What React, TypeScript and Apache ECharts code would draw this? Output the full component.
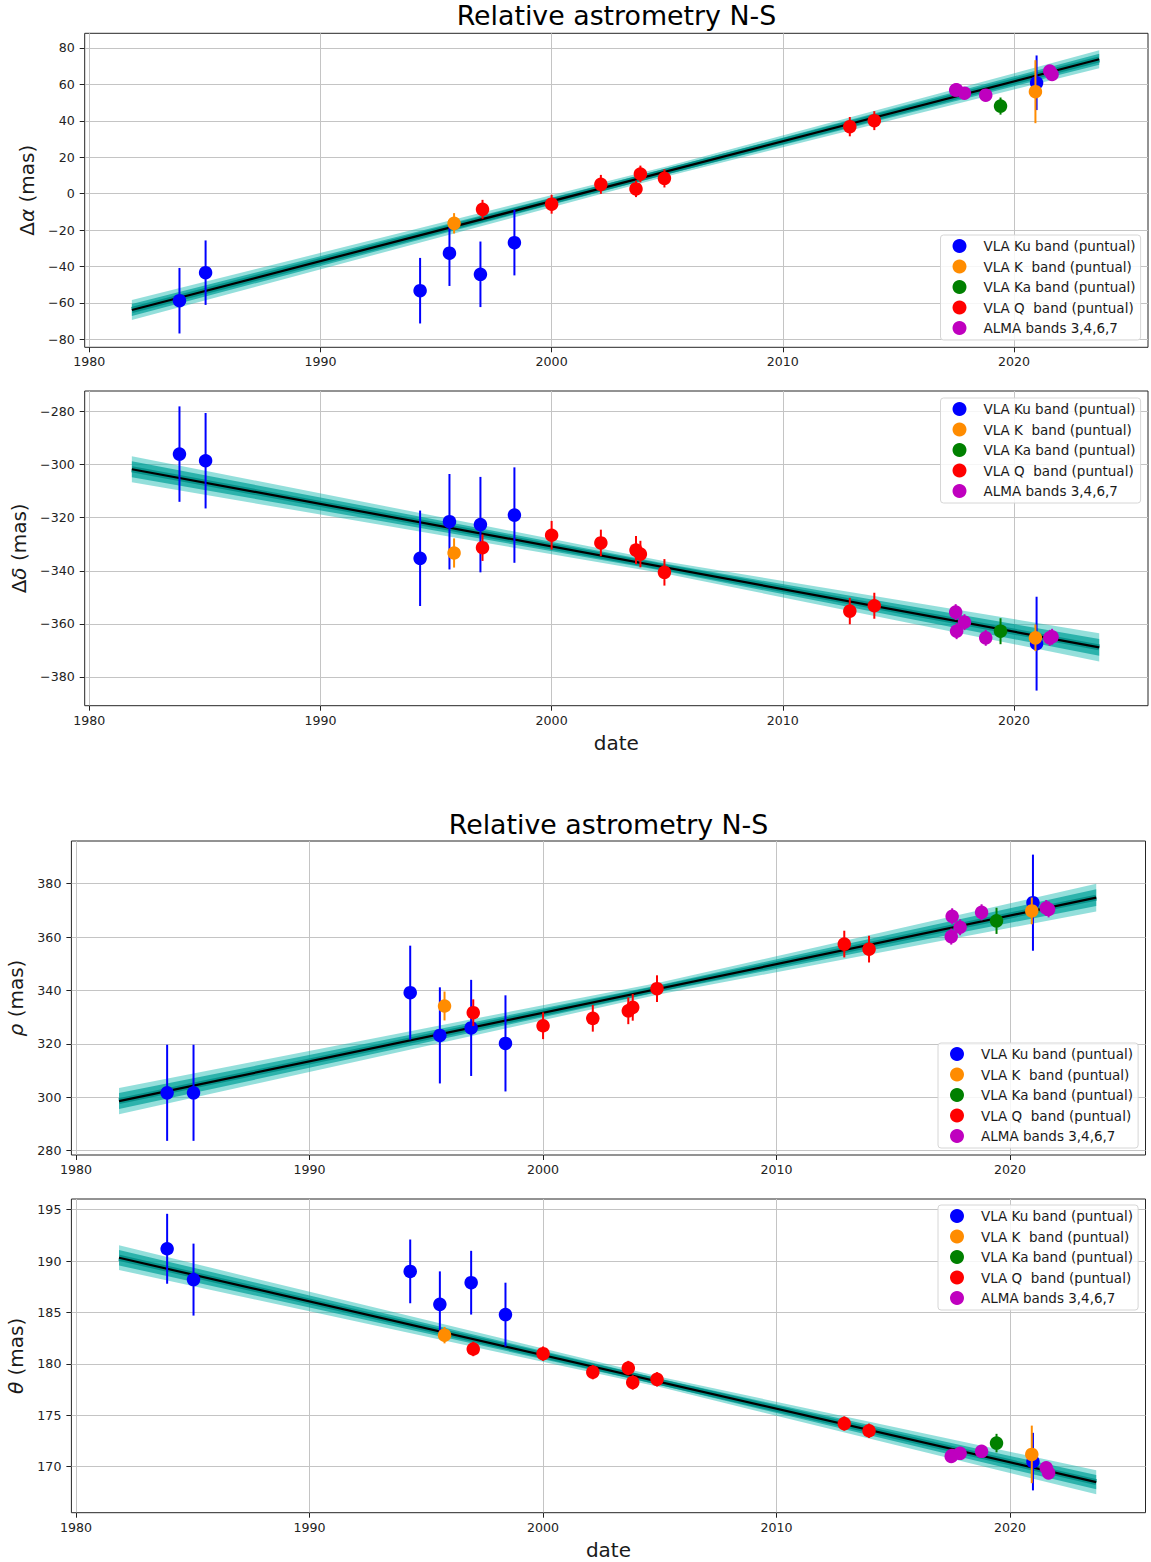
import React, { useEffect, useRef } from "react";
import * as echarts from "echarts";

// ---------- tick labels ----------
const xTicks = [1980, 1990, 2000, 2010, 2020];
const alphaTicks = [-80, -60, -40, -20, 0, 20, 40, 60, 80];
const deltaTicks = [-380, -360, -340, -320, -300, -280];
const rhoTicks = [280, 300, 320, 340, 360, 380];
const thetaTicks = [170, 175, 180, 185, 190, 195];

// ---------- series names / colours ----------
const seriesNames = [
  "VLA Ku band (puntual)",
  "VLA K  band (puntual)",
  "VLA Ka band (puntual)",
  "VLA Q  band (puntual)",
  "ALMA bands 3,4,6,7",
];
const seriesColors = ["#0000ff", "#ff8c00", "#008000", "#ff0000", "#bf00bf"];

// ---------- VLA Ku ----------
const kuDates = [1983.9, 1985.03, 1994.31, 1995.58, 1996.92, 1998.39, 2020.98];
const kuAlpha = [-58.8, -43.4, -53.3, -32.7, -44.3, -26.9, 60.9];
const kuAlphaErr = [18, 17.7, 18, 18, 18, 18, 15];
const kuDelta = [-296.0, -298.5, -335.3, -321.5, -322.6, -319.0, -367.5];
const kuDeltaErr = [18, 18, 18, 18, 18, 18, 17.7];
const kuRho = [301.7, 301.7, 339.2, 323.2, 326.0, 320.2, 372.9];
const kuRhoErr = [18, 18, 17.6, 18, 18, 18, 18];
const kuTheta = [191.2, 188.2, 189.0, 185.8, 187.9, 184.8, 170.5];
const kuThetaErr = [3.4, 3.5, 3.1, 3.2, 3.1, 3.1, 2.8];

// ---------- VLA K ----------
const kDates = [1995.78, 2020.93];
const kAlpha = [-16.3, 56.0];
const kAlphaErr = [5.6, 17.3];
const kDelta = [-333.3, -365.3];
const kDeltaErr = [5.5, 5.0];
const kRho = [334.2, 369.8];
const kRhoErr = [5.4, 5.0];
const kTheta = [182.8, 171.2];
const kThetaErr = [0.8, 2.8];

// ---------- VLA Ka ----------
const kaDates = [2019.42];
const kaAlpha = [48.1];
const kaAlphaErr = [4.7];
const kaDelta = [-362.8];
const kaDeltaErr = [4.9];
const kaRho = [366.1];
const kaRhoErr = [4.9];
const kaTheta = [172.3];
const kaThetaErr = [0.9];

// ---------- VLA Q ----------
const qDates = [1997.01, 2000.0, 2002.13, 2003.65, 2003.84, 2004.88, 2012.9, 2013.96];
const qAlpha = [-8.6, -5.8, 5.1, 2.6, 10.8, 8.4, 36.8, 40.1];
const qAlphaErr = [5.2, 5.2, 5.2, 4.5, 4.6, 5.0, 5.3, 5.2];
const qDelta = [-331.3, -326.6, -329.5, -332.2, -333.7, -340.6, -355.2, -353.2];
const qDeltaErr = [5.0, 5.4, 5.0, 5.3, 5.0, 5.0, 5.0, 4.9];
const qRho = [331.7, 326.8, 329.6, 332.4, 333.7, 340.7, 357.4, 355.5];
const qRhoErr = [5.0, 5.0, 5.0, 5.0, 5.0, 5.0, 5.0, 5.0];
const qTheta = [181.45, 181.0, 179.2, 179.6, 178.2, 178.5, 174.2, 173.5];
const qThetaErr = [0.7, 0.7, 0.7, 0.7, 0.7, 0.7, 0.7, 0.7];

// ---------- ALMA ----------
const almaDates = [2017.48, 2017.52, 2017.86, 2018.78, 2021.55, 2021.65];
const almaAlpha = [56.9, 57.0, 55.2, 54.1, 67.3, 65.5];
const almaAlphaErr = [3, 3, 3, 3, 3, 3];
const almaDelta = [-355.6, -362.8, -359.4, -365.3, -365.3, -364.9];
const almaDeltaErr = [3, 3, 3, 3, 3, 3];
const almaRho = [360.2, 367.8, 363.7, 369.3, 370.9, 370.4];
const almaRhoErr = [3, 3, 3, 3, 3, 3];
const almaTheta = [171.0, 171.1, 171.3, 171.5, 169.9, 169.4];
const almaThetaErr = [0.4, 0.4, 0.4, 0.4, 0.4, 0.4];

// ---------- linear fit (black line) ----------
const fitDates = [1981.84, 2023.69];
const fitAlpha = [-63.9, 73.8];
const fitDelta = [-301.7, -368.9];
const fitRho = [298.6, 374.8];
const fitTheta = [190.33, 168.5];

// ---------- posterior band (teal) ----------
const bandDates = [1981.84, 2005.0, 2023.69];
const bandAlphaLo = [-69.4, 9.6, 68.9];
const bandAlphaHi = [-58.4, 15.0, 78.7];
const coreAlphaLo = [-67.2, 10.7, 70.8];
const coreAlphaHi = [-60.6, 13.9, 76.8];
const bandDeltaLo = [-306.6, -341.2, -374.2];
const bandDeltaHi = [-296.8, -336.6, -363.6];
const coreDeltaLo = [-304.7, -340.3, -372.1];
const coreDeltaHi = [-298.7, -337.5, -365.7];
const bandRhoLo = [293.7, 338.6, 369.6];
const bandRhoHi = [303.5, 343.0, 380.0];
const coreRhoLo = [295.6, 339.5, 371.7];
const coreRhoHi = [301.6, 342.1, 377.9];
const bandThetaLo = [189.13, 177.75, 167.33];
const bandThetaHi = [191.53, 178.75, 169.67];
const coreThetaLo = [189.58, 177.95, 167.8];
const coreThetaHi = [191.08, 178.55, 169.2];

const instDates = [kuDates, kDates, kaDates, qDates, almaDates];

const FONT = "DejaVu Sans";

function fmtMinus(v: number) {
  return v < 0 ? "\u2212" + Math.abs(v) : String(v);
}

export default function App() {
  const ref = useRef<HTMLDivElement>(null);

  useEffect(() => {
    document.body.style.margin = "0";
    if (!ref.current) return;
    const chart = echarts.init(ref.current, undefined, { renderer: "svg" });

    const panels = [
      {
        vals: [kuAlpha, kAlpha, kaAlpha, qAlpha, almaAlpha],
        errs: [kuAlphaErr, kAlphaErr, kaAlphaErr, qAlphaErr, almaAlphaErr],
        fit: fitAlpha, bLo: bandAlphaLo, bHi: bandAlphaHi, cLo: coreAlphaLo, cHi: coreAlphaHi,
        ticks: alphaTicks, min: -84.39, max: 88.07,
        yName: "{u|\u0394}{i|\u03b1}{u| (mas)}", nameGap: 46, xName: "",
        grid: { left: 84.7, top: 33.3, width: 1063.3, height: 314 },
        legendLeft: 940.5, legendTop: 235,
      },
      {
        vals: [kuDelta, kDelta, kaDelta, qDelta, almaDelta],
        errs: [kuDeltaErr, kDeltaErr, kaDeltaErr, qDeltaErr, almaDeltaErr],
        fit: fitDelta, bLo: bandDeltaLo, bHi: bandDeltaHi, cLo: coreDeltaLo, cHi: coreDeltaHi,
        ticks: deltaTicks, min: -390.9, max: -272.2,
        yName: "{u|\u0394}{i|\u03b4}{u| (mas)}", nameGap: 54.5, xName: "date",
        grid: { left: 84.7, top: 391, width: 1063.3, height: 314.7 },
        legendLeft: 940.5, legendTop: 398,
      },
      {
        vals: [kuRho, kRho, kaRho, qRho, almaRho],
        errs: [kuRhoErr, kRhoErr, kaRhoErr, qRhoErr, almaRhoErr],
        fit: fitRho, bLo: bandRhoLo, bHi: bandRhoHi, cLo: coreRhoLo, cHi: coreRhoHi,
        ticks: rhoTicks, min: 278.4, max: 396.0,
        yName: "{i|\u03c1}{u| (mas)}", nameGap: 43.6, xName: "",
        grid: { left: 71.4, top: 841, width: 1074.1, height: 314 },
        legendLeft: 938, legendTop: 1043,
      },
      {
        vals: [kuTheta, kTheta, kaTheta, qTheta, almaTheta],
        errs: [kuThetaErr, kThetaErr, kaThetaErr, qThetaErr, almaThetaErr],
        fit: fitTheta, bLo: bandThetaLo, bHi: bandThetaHi, cLo: coreThetaLo, cHi: coreThetaHi,
        ticks: thetaTicks, min: 165.53, max: 196.04,
        yName: "{i|\u03b8}{u| (mas)}", nameGap: 43.6, xName: "date",
        grid: { left: 71.4, top: 1199, width: 1074.1, height: 313.7 },
        legendLeft: 938, legendTop: 1205,
      },
    ];

    const grids: any[] = [];
    const xAxes: any[] = [];
    const yAxes: any[] = [];
    const series: any[] = [];
    const legends: any[] = [];

    const bandSeries = (p: number, lo: number[], hi: number[], fill: string, z: number) => ({
      type: "custom",
      xAxisIndex: p,
      yAxisIndex: p,
      silent: true,
      z,
      data: bandDates.map((d, i) => [d, lo[i], hi[i]]),
      encode: { x: 0, y: [1, 2] },
      renderItem: (params: any, api: any) => {
        if (params.dataIndex !== 0) return { type: "group", children: [] };
        const pts: number[][] = [];
        for (let i = 0; i < bandDates.length; i++) pts.push(api.coord([bandDates[i], hi[i]]));
        for (let i = bandDates.length - 1; i >= 0; i--) pts.push(api.coord([bandDates[i], lo[i]]));
        return { type: "polygon", shape: { points: pts }, style: { fill } };
      },
    });

    panels.forEach((pd, p) => {
      grids.push({
        ...pd.grid,
        show: true,
        borderColor: "#262626",
        borderWidth: 1,
        backgroundColor: "#fff",
        containLabel: false,
        outerBoundsMode: "none",
      });
      xAxes.push({
        type: "value",
        gridIndex: p,
        min: 1979.8,
        max: 2025.8,
        name: pd.xName,
        nameLocation: "middle",
        nameGap: 27,
        nameTextStyle: { fontFamily: FONT, fontSize: 20, color: "#1a1a1a" },
        axisLine: { show: false, onZero: false },
        axisTick: { show: true, customValues: xTicks, length: 5, lineStyle: { color: "#222", width: 1 } },
        axisLabel: {
          customValues: xTicks,
          fontFamily: FONT,
          fontSize: 12.6,
          color: "#222",
          margin: 8,
          formatter: (v: number) => String(v),
        },
        splitLine: { show: true, lineStyle: { color: "#c4c4c4", width: 1 } },
      });
      yAxes.push({
        type: "value",
        gridIndex: p,
        min: pd.min,
        max: pd.max,
        name: pd.yName,
        nameLocation: "middle",
        nameRotate: 90,
        nameGap: pd.nameGap,
        nameTextStyle: {
          fontFamily: FONT,
          fontSize: 20,
          color: "#1a1a1a",
          rich: {
            u: { fontFamily: FONT, fontSize: 20, color: "#1a1a1a" },
            i: { fontFamily: FONT, fontSize: 20, fontStyle: "italic", color: "#1a1a1a" },
          },
        },
        axisLine: { show: false, onZero: false },
        axisTick: { show: true, customValues: pd.ticks, length: 5, lineStyle: { color: "#222", width: 1 } },
        axisLabel: {
          customValues: pd.ticks,
          fontFamily: FONT,
          fontSize: 12.6,
          color: "#222",
          margin: 10,
          formatter: (v: number) => fmtMinus(v),
        },
        splitLine: { show: true, lineStyle: { color: "#c4c4c4", width: 1 } },
      });

      // posterior band
      series.push(bandSeries(p, pd.bLo, pd.bHi, "rgba(0,178,170,0.42)", 2));
      series.push(bandSeries(p, pd.cLo, pd.cHi, "rgba(0,160,152,0.7)", 3));
      series.push({
        type: "line",
        xAxisIndex: p,
        yAxisIndex: p,
        silent: true,
        z: 4,
        symbol: "none",
        data: fitDates.map((d, i) => [d, pd.fit[i]]),
        lineStyle: { color: "rgba(0,140,132,0.85)", width: 6 },
      });
      series.push({
        type: "line",
        xAxisIndex: p,
        yAxisIndex: p,
        silent: true,
        z: 5,
        symbol: "none",
        data: fitDates.map((d, i) => [d, pd.fit[i]]),
        lineStyle: { color: "#000", width: 2.2 },
      });

      // observations
      instDates.forEach((dates, s) => {
        const color = seriesColors[s];
        const vals = pd.vals[s];
        const errs = pd.errs[s];
        series.push({
          type: "custom",
          name: seriesNames[s] + " err",
          xAxisIndex: p,
          yAxisIndex: p,
          silent: true,
          z: 10 + 2 * s,
          data: dates.map((d, i) => [d, vals[i], errs[i]]),
          encode: { x: 0, y: 1 },
          renderItem: (params: any, api: any) => {
            const x = api.value(0);
            const y = api.value(1);
            const e = api.value(2);
            const a = api.coord([x, y - e]);
            const b = api.coord([x, y + e]);
            return {
              type: "line",
              shape: { x1: a[0], y1: a[1], x2: b[0], y2: b[1] },
              style: { stroke: color, lineWidth: 2 },
            };
          },
        });
        series.push({
          type: "scatter",
          name: seriesNames[s],
          xAxisIndex: p,
          yAxisIndex: p,
          z: 11 + 2 * s,
          symbol: "circle",
          symbolSize: 13.5,
          itemStyle: { color, opacity: 1 },
          data: dates.map((d, i) => [d, vals[i]]),
        });
      });

      legends.push({
        orient: "vertical",
        left: pd.legendLeft,
        top: pd.legendTop,
        itemWidth: 14,
        itemHeight: 14,
        itemGap: 4.5,
        padding: [3, 5, 4, 12],
        selectedMode: false,
        borderColor: "#d6d6d6",
        borderWidth: 1,
        borderRadius: 3,
        backgroundColor: "rgba(255,255,255,0.85)",
        textStyle: {
          fontFamily: FONT,
          fontSize: 13.5,
          color: "#1a1a1a",
          lineHeight: 16,
          padding: [0, 0, 0, 12],
        },
        data: seriesNames.map((n) => ({ name: n, icon: "circle" })),
        z: 30,
      });
    });

    const option: any = {
      animation: false,
      backgroundColor: "#fff",
      title: [
        {
          text: "Relative astrometry N-S",
          left: 616.4,
          top: 2.3,
          padding: 0,
          textAlign: "center",
          textStyle: { fontFamily: FONT, fontSize: 26.8, fontWeight: "normal", color: "#000" },
        },
        {
          text: "Relative astrometry N-S",
          left: 608.5,
          top: 810.6,
          padding: 0,
          textAlign: "center",
          textStyle: { fontFamily: FONT, fontSize: 26.8, fontWeight: "normal", color: "#000" },
        },
      ],
      grid: grids,
      xAxis: xAxes,
      yAxis: yAxes,
      legend: legends,
      series,
    };

    chart.setOption(option);
    return () => chart.dispose();
  }, []);

  return <div ref={ref} style={{ width: 1151, height: 1562 }} />;
}
